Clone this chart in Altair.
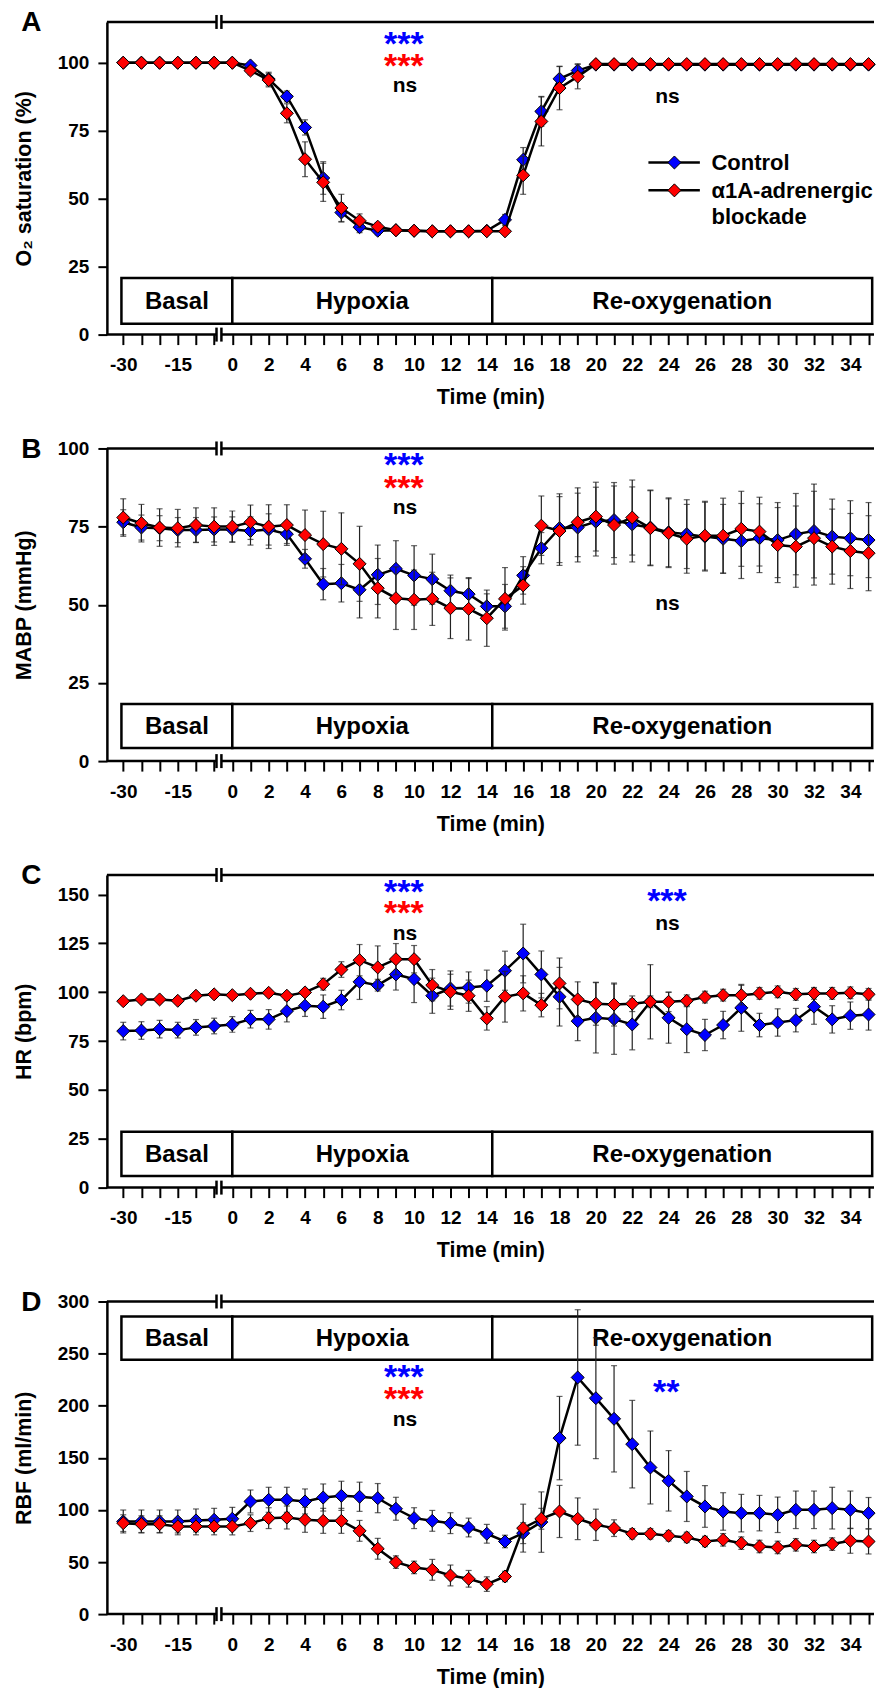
import altair as alt
import pandas as pd

FONT = "Liberation Sans"
BLUE = "#0000ff"
RED = "#ff0000"

# ---------------- shared x categories ----------------
times = [-30, -25, -20, -15, -10, -5] + list(range(0, 36))
positions = list(range(len(times)))
tick_labels = [str(t) if (t in (-30, -15) or (t >= 0 and t % 2 == 0)) else "" for t in times]

X_DOM = [-0.9, 41.3]
BREAK = [5.13, 5.40]
TOP_END = 41.3

phase_names = ["Basal", "Hypoxia", "Re-oxygenation"]
phase_start = [-0.1, 6.0, 20.3]
phase_end = [6.0, 20.3, 41.2]

# ---------------- Panel A : O2 saturation ----------------
o2_ctrl = [100, 100, 100, 100, 100, 100, 100,
           99.0, 94.0, 87.6, 76.2, 57.6, 44.9, 39.5, 38.2, 38.4, 38.2, 38.0, 38.0, 38.0, 38.2,
           42.2, 64.3, 82.1, 94.1, 97.1,
           99.3, 99.3, 99.3, 99.3, 99.3, 99.3, 99.3, 99.3, 99.3, 99.3, 99.3, 99.3, 99.3, 99.3, 99.3, 99.3]
o2_blk = [100, 100, 100, 100, 100, 100, 100,
          97.1, 93.6, 81.4, 64.5, 56.0, 46.6, 41.9, 39.7, 38.4, 38.2, 38.0, 38.0, 38.0, 38.0,
          38.0, 58.6, 78.4, 90.7, 94.9,
          99.5, 99.5, 99.5, 99.5, 99.5, 99.5, 99.5, 99.5, 99.5, 99.5, 99.5, 99.5, 99.5, 99.5, 99.5, 99.5]
o2_ctrl_err = [0.3, 0.3, 0.3, 0.3, 0.3, 0.3, 0.3,
               1.0, 2.5, 2.0, 2.8, 6.0, 3.5, 2.0, 1.5, 0.8, 0.8, 0.8, 0.8, 0.8, 0.8,
               2.0, 4.5, 5.5, 4.5, 2.5,
               0.5, 0.5, 0.5, 0.5, 0.5, 0.5, 0.5, 0.5, 0.5, 0.5, 0.5, 0.5, 0.5, 0.5, 0.5, 0.5]
o2_blk_err = [0.3, 0.3, 0.3, 0.3, 0.3, 0.3, 0.3,
              1.5, 2.5, 3.5, 6.4, 7.0, 5.0, 2.5, 1.5, 0.8, 0.8, 0.8, 0.8, 0.8, 0.8,
              0.8, 7.0, 9.0, 8.0, 4.5,
              0.5, 0.5, 0.5, 0.5, 0.5, 0.5, 0.5, 0.5, 0.5, 0.5, 0.5, 0.5, 0.5, 0.5, 0.5, 0.5]

# ---------------- Panel B : MABP ----------------
mabp_ctrl = [76.4, 74.7, 74.5, 73.9, 73.9, 74.1, 74.1,
             73.6, 74.1, 72.6, 64.7, 56.6, 56.9, 54.8, 59.6, 61.5, 59.4, 58.2, 54.5, 53.4, 49.5,
             49.5, 59.4, 68.1, 74.5, 74.7, 76.6, 77.1, 75.7, 74.7, 73.2, 72.6, 71.8, 71.1, 70.4, 71.3,
             70.7, 72.6, 73.6, 71.8, 71.3, 70.7]
mabp_blk = [77.9, 76.1, 74.7, 74.5, 75.5, 75.0, 75.0,
            76.4, 75.0, 75.5, 72.3, 69.4, 67.9, 63.1, 55.3, 52.1, 51.6, 51.9, 48.9, 48.7, 45.7,
            51.9, 56.2, 75.3, 73.6, 76.4, 78.2, 75.5, 77.9, 74.5, 72.9, 71.1, 72.1, 72.1, 74.3, 73.4,
            69.1, 68.6, 71.3, 68.6, 67.2, 66.5]
mabp_ctrl_err = [4, 4, 4, 4, 4, 4, 4,
                 4.5, 5, 3, 3, 5, 6, 9, 9.5, 9, 9.5, 8, 5, 5, 4,
                 7, 6, 5, 11, 11, 11, 12, 12, 12, 11, 11, 11, 11, 12, 11,
                 12, 13, 15, 12, 12, 12]
mabp_blk_err = [6, 6, 6, 6, 5.5, 6, 5,
                5.5, 7, 6.5, 8, 10.5, 11.5, 12, 9.5, 10, 9.5, 8.5, 9.7, 10, 9,
                10, 6, 9.5, 11, 11, 11, 12.5, 12, 12, 11, 11, 11, 12, 12, 11,
                12, 13, 15, 12, 12, 12]

# ---------------- Panel C : HR ----------------
hr_ctrl = [80.1, 80.4, 81.1, 80.6, 82.0, 82.7, 83.5,
           86.2, 86.1, 90.3, 93.1, 92.6, 96.0, 105.3, 103.6, 109.1, 106.7, 98.2, 101.9, 102.4, 103.3,
           111.0, 119.8, 109.1, 97.7, 85.2, 86.9, 86.2, 83.5, 95.1, 86.9, 81.1, 78.1, 83.2, 92.0, 83.2,
           84.5, 85.7, 92.6, 86.1, 88.0, 88.6]
hr_blk = [95.4, 96.3, 96.3, 95.6, 98.2, 98.9, 98.5,
          99.2, 99.7, 98.2, 99.9, 104.1, 111.6, 116.4, 112.7, 116.9, 116.9, 103.6, 100.2, 98.2, 86.6,
          97.7, 99.4, 93.4, 104.5, 96.3, 94.1, 93.7, 94.1, 95.1, 95.1, 95.6, 97.5, 98.5, 98.5, 99.4,
          100.2, 98.9, 99.4, 99.4, 99.7, 98.9]
hr_ctrl_err = [4.5, 4.5, 4.5, 4, 4, 4, 4,
               4.5, 5, 5.5, 5.5, 6, 5, 9, 3, 8, 12, 9, 9, 8, 8,
               10, 15, 12, 15, 10, 18, 18, 13, 19, 13, 12, 8, 7, 12, 6,
               7, 6, 9, 7, 7, 8]
hr_blk_err = [1.5, 1.5, 1.5, 1.5, 1.5, 1.5, 1.5,
              1.5, 1.5, 1.5, 1.5, 3, 4, 8, 11, 8, 7, 8, 9, 8, 6,
              13, 9, 6, 13, 9, 11, 11, 4, 3, 5, 3, 3, 3, 5, 3,
              3, 3, 3, 3, 3, 3]

# ---------------- Panel D : RBF ----------------
rbf_ctrl = [88.9, 88.9, 88.9, 88.9, 89.9, 90.5, 91.5,
            108.1, 109.7, 109.7, 108.1, 111.9, 113.5, 112.6, 111.3, 101.1, 92.1, 89.5, 87.3, 83.1, 77.1,
            69.7, 77.7, 88.3, 168.9, 227.1, 207.2, 187.4, 163.1, 140.7, 127.9, 112.9, 103.3, 98.5, 96.9, 96.9,
            95.3, 100.1, 100.1, 101.7, 100.1, 96.9]
rbf_blk = [87.3, 86.3, 86.3, 84.1, 84.1, 84.1, 84.1,
           87.3, 92.1, 92.7, 90.5, 89.5, 89.5, 79.9, 62.7, 49.9, 44.8, 42.5, 37.1, 33.9, 28.8,
           36.1, 82.5, 91.5, 98.5, 91.5, 85.7, 82.5, 77.1, 77.1, 75.2, 73.6, 69.7, 71.3, 68.1, 64.9,
           64.0, 66.5, 64.9, 67.2, 70.4, 69.7]
rbf_ctrl_err = [11, 11, 11, 11, 11, 11, 11,
                11, 12, 12, 12, 13, 14, 14, 14, 11, 10, 10, 10, 9, 9,
                6, 10, 29, 40, 65, 58, 51, 42, 35, 29, 24, 20, 18, 18, 17,
                17, 18, 18, 20, 18, 15]
rbf_blk_err = [8, 8, 8, 8, 8, 8, 8,
               8, 10, 11, 12, 12, 12, 10, 10, 6, 6, 10, 10, 8, 7,
               5, 23, 10, 25, 20, 15, 8, 5, 5, 5, 5, 5, 6, 6, 6,
               6, 6, 6, 6, 12, 12]

PANELS = [
    dict(letter="A", ytitle="O\u2082 saturation (%)", ymax=115, yticks=[0, 25, 50, 75, 100],
         ctrl=o2_ctrl, blk=o2_blk, ctrl_err=o2_ctrl_err, blk_err=o2_blk_err, box=(4.0, 20.8),
         stars=[(15.44, 107.8, "***", BLUE), (15.44, 99.7, "***", RED)],
         ns=[(15.5, 91.0), (29.94, 87.0)], legend=True),
    dict(letter="B", ytitle="MABP (mmHg)", ymax=100, yticks=[0, 25, 50, 75, 100],
         ctrl=mabp_ctrl, blk=mabp_blk, ctrl_err=mabp_ctrl_err, blk_err=mabp_blk_err, box=(4.2, 18.3),
         stars=[(15.44, 95.4, "***", BLUE), (15.44, 88.1, "***", RED)],
         ns=[(15.5, 80.7), (29.94, 49.9)], legend=False),
    dict(letter="C", ytitle="HR (bpm)", ymax=160, yticks=[0, 25, 50, 75, 100, 125, 150],
         ctrl=hr_ctrl, blk=hr_blk, ctrl_err=hr_ctrl_err, blk_err=hr_blk_err, box=(6.0, 28.6),
         stars=[(15.44, 152.3, "***", BLUE), (15.44, 141.5, "***", RED), (29.91, 147.7, "***", BLUE)],
         ns=[(15.5, 129.3), (29.94, 134.4)], legend=False),
    dict(letter="D", ytitle="RBF (ml/min)", ymax=300, yticks=[0, 50, 100, 150, 200, 250, 300],
         ctrl=rbf_ctrl, blk=rbf_blk, ctrl_err=rbf_ctrl_err, blk_err=rbf_blk_err, box=(244.1, 285.7),
         stars=[(15.44, 229.7, "***", BLUE), (15.44, 208.2, "***", RED), (29.87, 215.3, "**", BLUE)],
         ns=[(15.5, 184.9)], legend=False),
]

# legend (panel A) positions
leg_line = (28.89, 31.72)
leg_sym = 30.32
leg_text_x = 32.36
leg_rows = [63.3, 53.05]
leg_text = [("Control", 63.3), ("\u03b11A-adrenergic", 53.05), ("blockade", 43.6)]

W, H = 768, 313
label_expr = "[" + ",".join("'" + s + "'" for s in tick_labels) + "][datum.value]"


def make_panel(p):
    ymax = p["ymax"]
    xs = alt.Scale(domain=X_DOM, nice=False, zero=False)
    ys = alt.Scale(domain=[0, ymax], nice=False, zero=False)
    xaxis = alt.Axis(title="Time (min)", values=positions, labelExpr=label_expr, domain=False,
                     ticks=True, tickSize=10, tickWidth=2, tickColor="black",
                     labelFont=FONT, labelFontSize=19, labelFontWeight="bold", labelColor="black",
                     labelPadding=11, labelOverlap=False, labelFlush=False, grid=False,
                     titleFont=FONT, titleFontSize=21.5, titleFontWeight="bold", titleColor="black",
                     titlePadding=12)
    yaxis = alt.Axis(title=p["ytitle"], values=p["yticks"], domain=True, domainWidth=2.5,
                     domainColor="black", tickSize=9, tickWidth=2, tickColor="black",
                     labelFont=FONT, labelFontSize=19, labelFontWeight="bold", labelColor="black",
                     labelPadding=9, grid=False,
                     titleFont=FONT, titleFontSize=21.5, titleFontWeight="bold", titleColor="black",
                     titlePadding=22)

    def X(f):
        return alt.X(f, type="quantitative", scale=xs, axis=xaxis)

    def Y(f):
        return alt.Y(f, type="quantitative", scale=ys, axis=yaxis)

    layers = []
    # phase boxes
    lo, hi = p["box"]
    pdf = pd.DataFrame({"x0": phase_start, "x1": phase_end, "name": phase_names,
                        "y0": [lo] * 3, "y1": [hi] * 3})
    pdf["xm"] = (pdf["x0"] + pdf["x1"]) / 2
    pdf["ym"] = (lo + hi) / 2
    layers.append(alt.Chart(pdf).mark_rect(fill="white", stroke="black", strokeWidth=2.5)
                  .encode(x=X("x0"), x2="x1", y=Y("y0"), y2="y1"))
    layers.append(alt.Chart(pdf).mark_text(font=FONT, fontSize=24, fontWeight="bold", color="black",
                                           baseline="middle", dy=1)
                  .encode(x=X("xm"), y=Y("ym"), text="name"))

    # series
    for vals, errs, col in ((p["ctrl"], p["ctrl_err"], BLUE), (p["blk"], p["blk_err"], RED)):
        df = pd.DataFrame({"pos": positions, "val": vals, "err": errs})
        df["lo"] = df["val"] - df["err"]
        df["hi"] = df["val"] + df["err"]
        base = alt.Chart(df)
        layers.append(base.mark_rule(color="#222222", strokeWidth=1.2)
                      .encode(x=X("pos"), y=Y("lo"), y2="hi"))
        layers.append(base.transform_fold(["lo", "hi"], as_=["k", "cap"])
                      .mark_tick(orient="horizontal", size=6, thickness=1.2, color="#222222")
                      .encode(x=X("pos"), y=Y("cap:Q")))
        layers.append(base.mark_line(color="black", strokeWidth=2.5)
                      .encode(x=X("pos"), y=Y("val")))
        layers.append(base.mark_point(shape="diamond", filled=True, fill=col, stroke="black",
                                      strokeWidth=1, size=170, opacity=1)
                      .encode(x=X("pos"), y=Y("val")))

    # axis lines with break
    ddf = pd.DataFrame({"x0": [X_DOM[0], BREAK[1], X_DOM[0], BREAK[1]],
                        "x1": [BREAK[0], X_DOM[1], BREAK[0], TOP_END],
                        "y": [0, 0, ymax, ymax]})
    layers.append(alt.Chart(ddf).mark_rule(color="black", strokeWidth=2.5)
                  .encode(x=X("x0"), x2="x1", y=Y("y")))
    bdf = pd.DataFrame({"x": BREAK})
    layers.append(alt.Chart(bdf).mark_rule(color="black", strokeWidth=2.5)
                  .encode(x=X("x"), y=alt.value(-7), y2=alt.value(7)))
    layers.append(alt.Chart(bdf).mark_rule(color="black", strokeWidth=2.5)
                  .encode(x=X("x"), y=alt.value(H - 7), y2=alt.value(H + 7)))

    # significance annotations
    sdf = pd.DataFrame(p["stars"], columns=["pos", "val", "txt", "col"])
    layers.append(alt.Chart(sdf).mark_text(font=FONT, fontSize=34, fontWeight="bold",
                                           baseline="middle", dy=3)
                  .encode(x=X("pos"), y=Y("val"), text="txt", color=alt.Color("col:N", scale=None)))
    ndf = pd.DataFrame(p["ns"], columns=["pos", "val"])
    ndf["txt"] = "ns"
    layers.append(alt.Chart(ndf).mark_text(font=FONT, fontSize=21, fontWeight="bold",
                                           baseline="middle", color="black", dy=-1)
                  .encode(x=X("pos"), y=Y("val"), text="txt"))

    if p["legend"]:
        ldf = pd.DataFrame({"x0": [leg_line[0]] * 2, "x1": [leg_line[1]] * 2, "y": leg_rows,
                            "xs": [leg_sym] * 2, "col": [BLUE, RED]})
        layers.append(alt.Chart(ldf).mark_rule(color="black", strokeWidth=2.5)
                      .encode(x=X("x0"), x2="x1", y=Y("y")))
        layers.append(alt.Chart(ldf).mark_point(shape="diamond", filled=True, stroke="black",
                                                strokeWidth=1, size=170, opacity=1)
                      .encode(x=X("xs"), y=Y("y"), fill=alt.Fill("col:N", scale=None)))
        tdf = pd.DataFrame(leg_text, columns=["txt", "y"])
        tdf["x"] = leg_text_x
        layers.append(alt.Chart(tdf).mark_text(font=FONT, fontSize=22, fontWeight="bold",
                                               align="left", baseline="middle", color="black", dy=1)
                      .encode(x=X("x"), y=Y("y"), text="txt"))

    # panel letter
    layers.append(alt.Chart(pd.DataFrame({"t": [p["letter"]]}))
                  .mark_text(font=FONT, fontSize=28, fontWeight="bold", align="center",
                             baseline="alphabetic", color="black")
                  .encode(x=alt.value(-75.7), y=alt.value(9.5), text="t"))

    return alt.layer(*layers).properties(width=W, height=H)


chart = alt.vconcat(*[make_panel(p) for p in PANELS], spacing=27).properties(
    padding={"left": 5, "top": 0, "right": 0, "bottom": 0}
).configure_view(stroke=None)

chart.save("out.html", embed_options={"renderer": "svg", "actions": False})
